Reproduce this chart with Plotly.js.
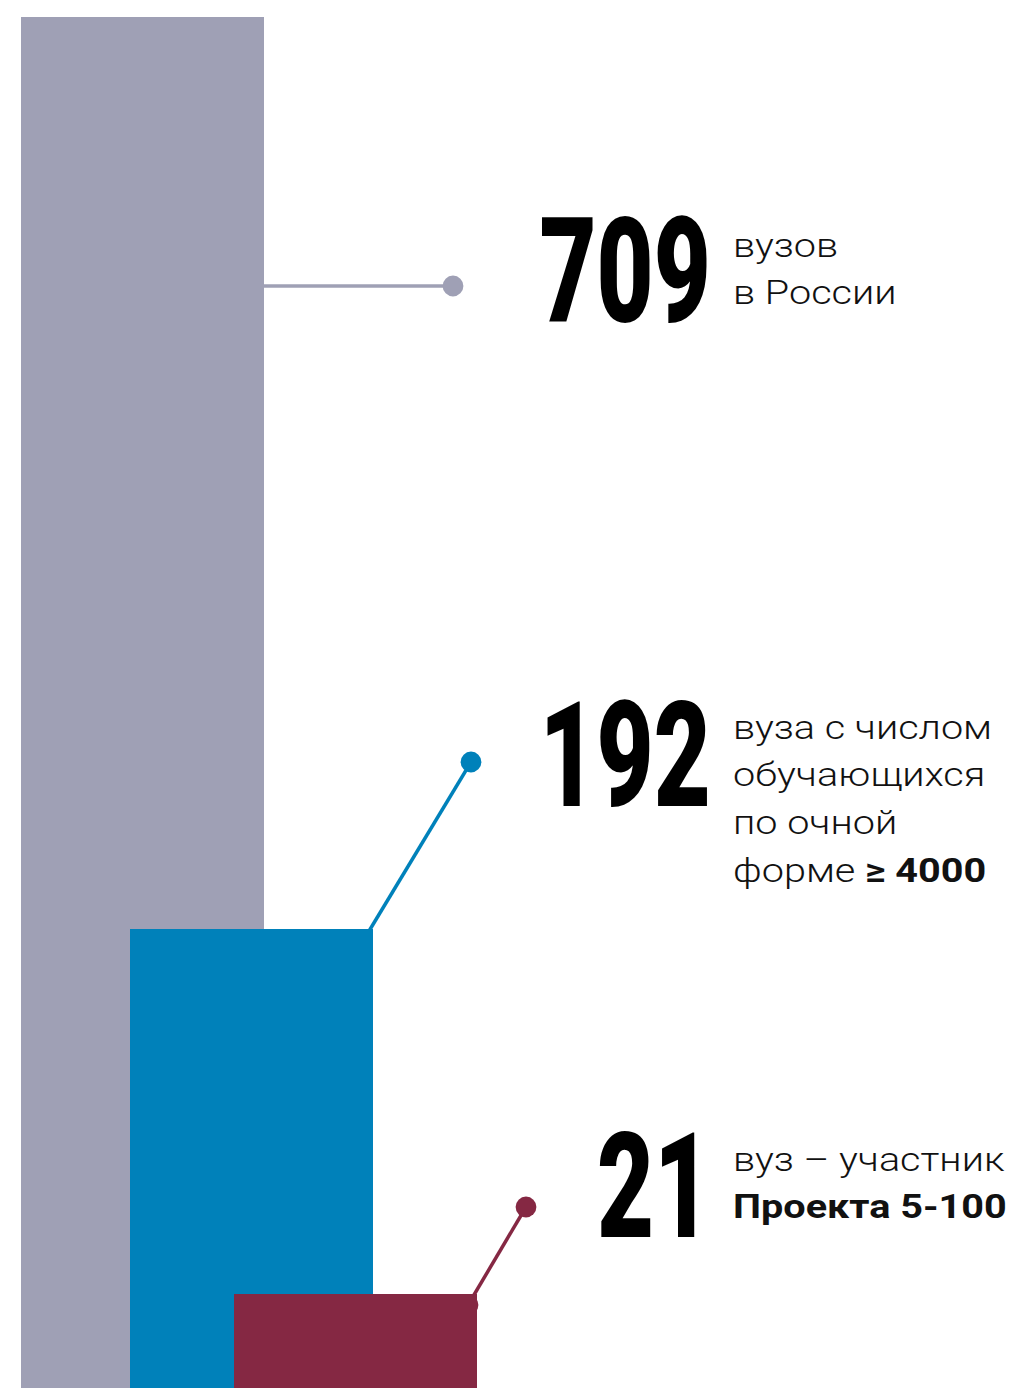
<!DOCTYPE html>
<html><head><meta charset="utf-8">
<script src="https://cdn.plot.ly/plotly-3.0.1.min.js"></script>
<style>html,body{margin:0;padding:0;background:#fff;} #chart{width:1016px;height:1388px;}</style>
</head><body><div id="chart"></div>
<script>
// ---------- DATA ----------
const categories = ['вузы в России', 'вузы с числом обучающихся по очной форме ≥ 4000', 'вузы – участники Проекта 5-100'];
const values = [709, 192, 21];
// visual bar heights (units of the tallest bar)
const barHeights = [709, 237.4, 48.6];
const descriptionLines = [
  ['вузов', 'в России'],
  ['вуза с числом', 'обучающихся', 'по очной', 'форме <b>≥ 4000</b>'],
  ['вуз – участник', '<b>Проекта 5-100</b>']
];

// ---------- LAYOUT / STYLE ----------
const W = 1016, H = 1388;
const TOP_PX = 17;
const Y_MAX = barHeights[0] * H / (H - TOP_PX);
const BAR_LEFT = [21, 130, 234];
const BAR_WIDTH = 243;
const COLORS = ['#9FA0B5', '#0081BA', '#852843'];
const DOT_PX = [[453, 286], [471, 762], [526, 1207]];
const INNER_PX = [[250, 286], [360, 946], [468, 1305]];
const DOT_R = 10.4;
const LINE_W = 3.5;
const NUM_RIGHT = 711;
const NUM_BASELINE = [322, 806, 1237];
const NUM_SIZE = 146;
const NUM_SCALE_X = 0.675;
const DESC_LEFT = 733;
const DESC_BASELINES = [[257, 304], [739, 786, 834, 882], [1171, 1218]];
const DESC_SIZE = 34;
const DESC_SCALE_X = 1.165;
const ASC = 0.928;

const xd = px => px;
const yd = py => (H - py) / H * Y_MAX;

const data = [{
  type: 'bar',
  x: BAR_LEFT.map(l => l + BAR_WIDTH / 2),
  y: barHeights,
  width: BAR_LEFT.map(() => BAR_WIDTH),
  text: categories,
  textposition: 'none',
  marker: {color: COLORS, line: {width: 0}},
  hoverinfo: 'skip'
}];

const shapes = [];
values.forEach((v, i) => {
  const [dx, dy] = DOT_PX[i], [ix, iy] = INNER_PX[i];
  shapes.push({type: 'line', layer: 'below', xref: 'x', yref: 'y',
    x0: xd(ix), y0: yd(iy), x1: xd(dx), y1: yd(dy),
    line: {color: COLORS[i], width: LINE_W}});
});
values.forEach((v, i) => {
  [DOT_PX[i], INNER_PX[i]].forEach(([cx, cy]) => {
    shapes.push({type: 'circle', layer: 'below', xref: 'x', yref: 'y',
      x0: xd(cx - DOT_R), x1: xd(cx + DOT_R), y0: yd(cy + DOT_R), y1: yd(cy - DOT_R),
      fillcolor: COLORS[i], line: {width: 0}});
  });
});

const annotations = [];
values.forEach((v, i) => {
  annotations.push({
    text: String(v), showarrow: false, xref: 'x', yref: 'y',
    x: xd(NUM_RIGHT), y: yd(NUM_BASELINE[i] - ASC * NUM_SIZE),
    xanchor: 'right', yanchor: 'top', borderpad: 0, borderwidth: 0,
    font: {family: 'Roboto', size: NUM_SIZE, weight: 900, color: '#000'}
  });
});
descriptionLines.forEach((lines, i) => {
  lines.forEach((ln, j) => {
    annotations.push({
      text: ln, showarrow: false, xref: 'x', yref: 'y',
      x: xd(DESC_LEFT), y: yd(DESC_BASELINES[i][j] - ASC * DESC_SIZE),
      xanchor: 'left', yanchor: 'top', align: 'left', borderpad: 0, borderwidth: 0,
      font: {family: 'Roboto', size: DESC_SIZE, weight: 300, color: '#111'}
    });
  });
});

const layout = {
  width: W, height: H,
  margin: {l: 0, r: 0, t: 0, b: 0, pad: 0},
  paper_bgcolor: '#fff', plot_bgcolor: '#fff',
  showlegend: false, barmode: 'overlay',
  xaxis: {range: [0, W], visible: false, fixedrange: true},
  yaxis: {range: [0, Y_MAX], visible: false, fixedrange: true},
  shapes: shapes,
  annotations: annotations,
  hovermode: false
};

Plotly.newPlot('chart', data, layout, {staticPlot: true, displayModeBar: false}).then(gd => {
  gd.querySelectorAll('g.annotation').forEach(g => {
    const idx = +g.getAttribute('data-index');
    const t = g.querySelector('text.annotation-text');
    if (!t) return;
    const bb = t.getBBox();
    if (idx < values.length) {
      const r = bb.x + bb.width;
      t.setAttribute('transform', `translate(${r},0) scale(${NUM_SCALE_X},1) translate(${-r},0)`);
    } else {
      const l = bb.x;
      t.setAttribute('transform', `translate(${l},0) scale(${DESC_SCALE_X},1) translate(${-l},0)`);
    }
  });
});
</script>
</body></html>
